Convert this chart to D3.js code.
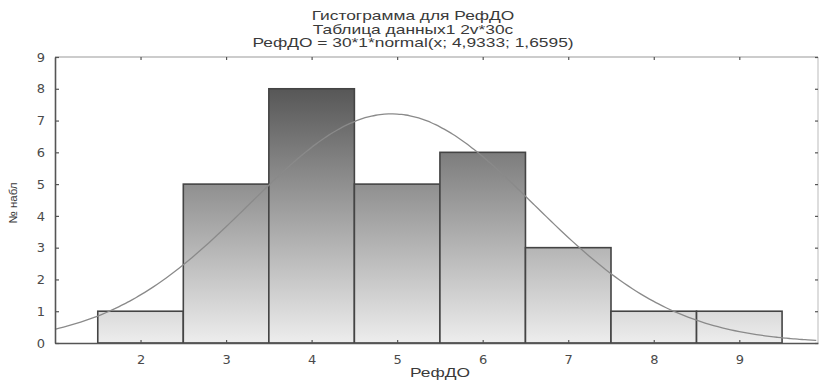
<!DOCTYPE html>
<html>
<head>
<meta charset="utf-8">
<script src="https://cdn.jsdelivr.net/npm/d3@7"></script>
<style>
  body { margin: 0; background: #fff; }
  text { font-family: "Liberation Sans", Arial, sans-serif; fill: #333; }
</style>
</head>
<body>
<svg id="chart" width="822" height="380"></svg>
<script>
// histogram bins (centres) and counts
var binCenters = [2, 3, 4, 5, 6, 7, 8, 9];
var counts = [1, 5, 8, 5, 6, 3, 1, 1];
var xTicks = [2, 3, 4, 5, 6, 7, 8, 9];
var yTicks = [0, 1, 2, 3, 4, 5, 6, 7, 8, 9];
// fitted normal from the title: 30*1*normal(x; 4,9333; 1,6595)
var nObs = 30, binWidth = 1, fitMean = 4.9333, fitSd = 1.6595;
var titles = ["Гистограмма для РефДО", "Таблица данных1 2v*30c", "РефДО = 30*1*normal(x; 4,9333; 1,6595)"];

var svg = d3.select("#chart");
// note: "top" is a reserved window prop, so use plot* names
var plotL = 55, plotR = 818, plotT = 57, plotB = 343;

var x = d3.scaleLinear().domain([1, 9.92]).range([plotL, plotR]);
var y = d3.scaleLinear().domain([0, 9]).range([plotB, plotT]);

// one gradient for all bars, so taller bars get darker tops
var grad = svg.append("defs").append("linearGradient")
    .attr("id", "barGrad")
    .attr("gradientUnits", "userSpaceOnUse")
    .attr("x1", 0).attr("x2", 0)
    .attr("y1", y(8)).attr("y2", y(0));
grad.append("stop").attr("offset", "0%").attr("stop-color", "#575757");
grad.append("stop").attr("offset", "100%").attr("stop-color", "#ededed");

// titles (the source image is stretched sideways)
svg.selectAll(".title")
  .data(titles)
  .enter().append("text")
    .attr("class", "title")
    .attr("text-anchor", "middle")
    .attr("font-size", 12.5)
    .style("fill", "#3a3a3a")
    .attr("transform", function(d, i) { return "translate(413," + (20 + i * 13.5) + ") scale(1.39,1)"; })
    .text(function(d) { return d; });

// bars
svg.selectAll("rect.bar")
  .data(binCenters)
  .enter().append("rect")
    .attr("class", "bar")
    .attr("x", function(d) { return x(d - binWidth / 2); })
    .attr("width", function(d) { return x(d + binWidth / 2) - x(d - binWidth / 2); })
    .attr("y", function(d, i) { return y(counts[i]); })
    .attr("height", function(d, i) { return y(0) - y(counts[i]); })
    .style("fill", "url(#barGrad)")
    .style("stroke", "#444")
    .style("stroke-width", 1.6);

// fitted curve
var curveX = d3.range(1, 9.92, 0.05);
var line = d3.line()
    .x(function(d) { return x(d); })
    .y(function(d) {
      var z = (d - fitMean) / fitSd;
      return y(nObs * binWidth * Math.exp(-0.5 * z * z) / (fitSd * Math.sqrt(2 * Math.PI)));
    })
    .curve(d3.curveBasis);
svg.append("path")
    .datum(curveX)
    .attr("d", line)
    .style("fill", "none")
    .style("stroke", "#8a8a8a")
    .style("stroke-width", 1.3);

// frame
svg.append("line").attr("x1", plotL).attr("x2", plotR).attr("y1", plotT).attr("y2", plotT)
    .style("stroke", "#999").style("stroke-width", 1.2);
svg.append("line").attr("x1", plotR).attr("x2", plotR).attr("y1", plotT).attr("y2", plotB)
    .style("stroke", "#bbb").style("stroke-width", 1);

// axes, ticks pointing inward
svg.append("g").attr("transform", "translate(0," + plotB + ")")
    .call(d3.axisBottom(x).tickValues(xTicks).tickSize(-3).tickPadding(12).tickSizeOuter(0));
svg.append("g").attr("transform", "translate(" + plotL + ",0)")
    .call(d3.axisLeft(y).tickValues(yTicks).tickSize(-4).tickPadding(10).tickSizeOuter(0));
svg.append("g").attr("transform", "translate(0," + plotT + ")")
    .call(d3.axisTop(x).tickValues(xTicks).tickSize(-3).tickFormat("").tickSizeOuter(0))
    .select(".domain").remove();
svg.append("g").attr("transform", "translate(" + plotR + ",0)")
    .call(d3.axisRight(y).tickValues(yTicks).tickSize(-3).tickFormat("").tickSizeOuter(0))
    .select(".domain").remove();

svg.selectAll(".domain").style("stroke", "#555").style("stroke-width", 1.6);
svg.selectAll(".tick line").style("stroke", "#555").style("stroke-width", 1.2);
svg.selectAll(".tick text")
    .attr("font-size", 13)
    .style("font-family", "'DejaVu Sans', sans-serif")
    .style("fill", "#4a4a4a");

// axis labels
svg.append("text")
    .attr("text-anchor", "middle")
    .attr("font-size", 12)
    .style("fill", "#3a3a3a")
    .attr("transform", "translate(440,377) scale(1.45,1)")
    .text("РефДО");
svg.append("text")
    .attr("text-anchor", "middle")
    .attr("font-size", 11.5)
    .style("fill", "#3a3a3a")
    .attr("transform", "translate(17,203) rotate(-90)")
    .text("№ набл");
</script>
</body>
</html>
